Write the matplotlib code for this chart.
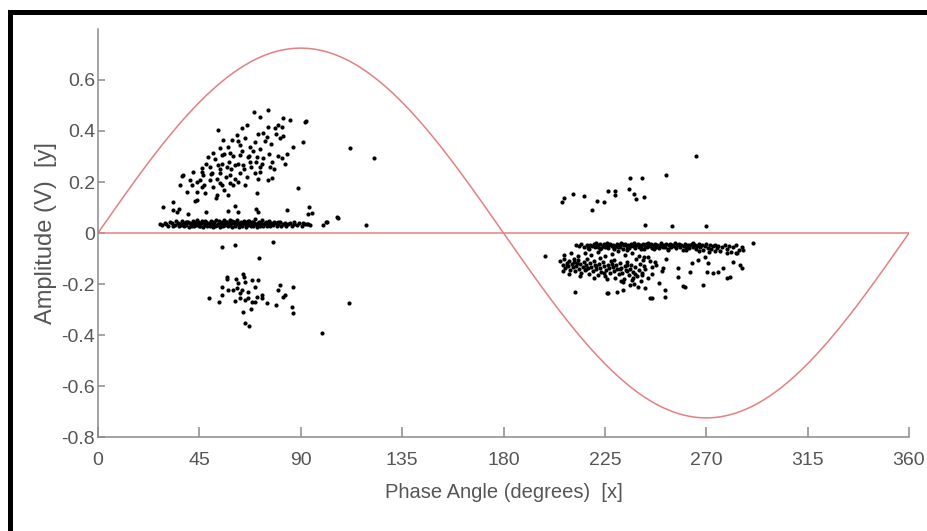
import numpy as np
import matplotlib.pyplot as plt
from matplotlib.patches import Rectangle

plt.rcParams['font.family'] = ['Liberation Sans', 'DejaVu Sans']

# reference sine wave
amplitude = 0.725
phase = np.linspace(0, 360, 721)

# scatter clusters (phase deg, amplitude V)
upper_left = [
    (69.2, .475), (75.5, .482), (71.9, .455), (82.1, .451), (85.2, .443), (92.3, .439), (66.1, .424), (79.9, .424),
    (78.6, .412), (81.7, .416), (75.5, .416), (53.3, .404), (73.2, .392), (75.0, .376), (80.8, .373), (91.0, .357),
    (86.6, .337), (61.7, .384), (59.5, .365), (55.5, .365), (65.3, .373), (63.0, .345), (69.7, .357), (67.5, .337),
    (57.7, .337), (54.2, .333), (51.0, .314), (48.8, .298), (55.0, .306), (58.6, .314), (63.0, .306), (66.6, .298),
    (70.6, .298), (73.2, .294), (81.7, .294), (77.2, .278), (83.0, .271), (46.2, .255), (49.7, .259), (53.3, .267),
    (57.3, .259), (60.8, .267), (64.4, .267), (67.5, .278), (71.9, .259), (76.4, .259), (42.2, .239), (46.6, .227),
    (50.6, .235), (54.2, .235), (58.6, .227), (63.0, .235), (69.7, .235), (71.9, .239), (77.2, .216), (37.7, .227),
    (40.8, .208), (45.3, .208), (49.7, .208), (54.2, .196), (58.6, .196), (62.1, .200), (65.3, .188), (75.5, .208),
    (41.7, .188), (46.2, .180), (55.0, .188), (39.5, .161), (43.9, .161), (47.5, .157), (52.8, .149), (57.7, .149),
    (70.6, .157), (88.8, .176), (33.3, .122), (43.1, .125), (91.9, .435), (111.9, .333), (122.5, .294), (37.3, .224),
    (36.4, .188), (28.9, .102), (35.1, .082), (43.9, .129),
    (48.0, .27), (50.0, .23), (52.0, .29), (53.0, .21), (55.0, .27), (56.0, .31), (57.0, .22), (58.0, .28),
    (59.0, .25), (60.0, .30), (61.0, .21), (62.0, .27), (64.0, .32), (65.0, .25), (66.0, .22), (67.0, .30),
    (68.0, .26), (69.0, .32), (70.0, .28), (71.0, .21), (72.0, .33), (73.0, .27), (74.0, .36), (76.0, .31),
    (77.0, .35), (78.0, .25), (79.0, .39), (80.0, .30), (82.0, .38), (84.0, .31), (44.0, .20), (46.0, .24),
    (47.0, .19), (51.0, .18), (54.0, .25), (56.0, .17), (60.0, .19), (62.0, .36), (64.0, .41), (71.0, .39),
]

left_band = [
    (27.5, .036), (28.3, .030), (29.6, .041), (30.4, .034), (31.2, .028), (32.0, .044), (32.9, .038), (33.5, .027),
    (34.1, .031), (34.8, .046), (35.3, .040), (35.9, .026), (36.4, .037), (36.8, .030), (37.3, .048), (37.9, .041),
    (38.2, .027), (38.7, .038), (39.1, .031), (39.6, .045), (40.0, .043), (40.4, .025), (40.9, .039), (41.3, .035),
    (41.6, .029), (42.1, .047), (42.5, .045), (42.8, .026), (43.3, .039), (43.7, .032), (44.0, .050), (44.4, .042),
    (44.9, .027), (45.2, .029), (45.6, .038), (46.1, .046), (46.4, .024), (46.8, .040), (47.3, .033), (47.6, .049),
    (48.0, .044), (48.5, .026), (48.8, .036), (49.2, .041), (49.7, .029), (50.0, .048), (50.4, .038), (50.9, .024),
    (51.2, .036), (51.6, .043), (52.1, .028), (52.4, .051), (52.8, .030), (53.3, .037), (53.6, .046), (54.0, .025),
    (54.5, .039), (54.8, .033), (55.2, .042), (55.7, .027), (56.0, .050), (56.4, .032), (56.9, .045), (57.2, .044),
    (57.6, .026), (58.1, .040), (58.4, .031), (58.8, .052), (59.3, .047), (59.6, .024), (60.0, .039), (60.5, .043),
    (60.8, .028), (61.2, .036), (61.7, .052), (62.0, .038), (62.4, .025), (62.9, .041), (63.2, .035), (63.6, .045),
    (64.1, .027), (64.4, .038), (64.8, .049), (65.3, .036), (65.6, .024), (66.0, .042), (66.5, .030), (66.8, .048),
    (67.2, .047), (67.7, .026), (68.0, .037), (68.4, .043), (68.9, .029), (69.3, .039), (69.8, .055), (70.2, .036),
    (70.7, .025), (71.1, .040), (71.6, .045), (72.0, .028), (72.5, .038), (73.0, .050), (73.4, .026), (73.9, .037),
    (74.4, .042), (74.9, .029), (75.4, .036), (75.9, .046), (76.5, .027), (77.0, .039), (77.6, .031), (78.2, .044),
    (78.8, .041), (79.4, .027), (80.0, .037), (80.7, .044), (81.4, .028), (82.1, .036), (82.8, .039), (83.6, .027),
    (84.5, .035), (85.4, .040), (86.3, .029), (87.2, .036), (88.3, .033), (89.4, .038), (90.6, .028), (91.8, .035),
    (93.0, .037), (94.3, .031),
    (36.0, .034), (39.0, .042), (42.0, .033), (45.0, .041), (48.2, .034), (50.6, .043), (53.0, .033), (55.5, .041),
    (58.0, .034), (60.2, .044), (62.6, .033), (65.0, .041), (67.4, .034), (69.0, .044), (71.4, .033), (74.0, .041),
    (76.8, .034), (79.8, .042), (83.0, .034), (86.8, .042),
    (33.3, .090), (35.9, .094), (39.9, .075), (47.9, .083), (52.4, .137), (57.7, .087), (60.8, .106), (62.1, .082),
    (70.2, .094), (70.9, .082), (84.0, .090), (93.7, .102), (93.2, .075), (95.0, .078), (91.0, .039), (92.8, .035),
    (99.9, .031), (101.2, .043), (106.1, .063), (119.0, .031), (106.5, .059), (101.7, .043),
    (55.0, -.055), (60.8, -.047), (77.7, -.035), (71.5, -.098),
]

lower_left = [
    (64.4, -.161), (64.8, -.173), (57.3, -.173), (57.3, -.180), (61.3, -.180), (68.4, -.184), (71.0, -.184), (62.1, -.196),
    (65.3, -.192), (55.0, -.212), (57.7, -.224), (59.9, -.224), (61.7, -.216), (63.9, -.224), (66.6, -.231), (69.7, -.212),
    (80.8, -.204), (86.6, -.212), (79.9, -.224), (55.0, -.243), (63.0, -.235), (66.6, -.255), (72.8, -.243), (83.0, -.243),
    (82.1, -.251), (49.3, -.255), (53.7, -.271), (60.8, -.267), (65.3, -.263), (68.4, -.271), (69.7, -.271), (72.8, -.255),
    (75.0, -.275), (79.0, -.282), (86.1, -.290), (86.6, -.314), (64.4, -.310), (67.9, -.298), (65.3, -.353), (67.0, -.365),
    (99.4, -.392), (111.4, -.275), (63.0, -.255), (70.6, -.251),
]

upper_right = [
    (265.5, .302), (236.2, .216), (241.5, .216), (252.1, .227), (226.4, .165), (229.5, .165), (229.5, .149), (235.7, .173),
    (237.9, .153), (238.8, .133), (242.4, .141), (224.6, .122), (242.8, .031), (254.8, .027), (269.9, .027), (206.0, .122),
    (206.9, .137), (210.9, .153), (215.7, .145), (221.5, .125), (219.3, .090),
]

right_band = [
    (212.0, -.047), (213.5, -.052), (214.6, -.044), (215.8, -.055), (216.9, -.049), (217.7, -.058), (218.6, -.046), (219.4, -.051),
    (220.1, -.043), (220.8, -.056), (221.5, -.048), (222.1, -.053), (222.8, -.045), (223.4, -.060), (224.0, -.050), (224.6, -.044),
    (225.2, -.054), (225.8, -.047), (226.3, -.057), (226.9, -.049), (227.4, -.043), (228.0, -.052), (228.5, -.046), (229.1, -.058),
    (229.6, -.050), (230.2, -.044), (230.7, -.055), (231.3, -.048), (231.8, -.053), (232.4, -.045), (232.9, -.061), (233.5, -.049),
    (234.0, -.043), (234.6, -.054), (235.1, -.047), (235.7, -.057), (236.2, -.050), (236.8, -.044), (237.3, -.052), (237.9, -.046),
    (238.4, -.059), (239.0, -.049), (239.5, -.043), (240.1, -.055), (240.6, -.048), (241.2, -.053), (241.7, -.045), (242.3, -.062),
    (242.8, -.050), (243.4, -.044), (243.9, -.056), (244.5, -.047), (245.0, -.052), (245.6, -.045), (246.1, -.058), (246.7, -.049),
    (247.2, -.043), (247.8, -.054), (248.3, -.047), (248.9, -.060), (249.4, -.050), (250.0, -.044), (250.6, -.055), (251.1, -.048),
    (251.7, -.053), (252.2, -.045), (252.8, -.063), (253.3, -.049), (253.9, -.043), (254.4, -.056), (255.0, -.047), (255.6, -.052),
    (256.1, -.045), (256.7, -.059), (257.2, -.049), (257.8, -.044), (258.3, -.055), (258.9, -.048), (259.5, -.066), (260.0, -.050),
    (260.6, -.044), (261.2, -.054), (261.8, -.047), (262.4, -.058), (263.0, -.049), (263.6, -.043), (264.2, -.056), (264.8, -.048),
    (265.4, -.062), (266.0, -.050), (266.7, -.045), (267.3, -.055), (268.0, -.048), (268.7, -.068), (269.4, -.051), (270.1, -.045),
    (270.8, -.057), (271.5, -.049), (272.3, -.063), (273.0, -.052), (273.8, -.046), (274.6, -.058), (275.4, -.050), (276.3, -.070),
    (277.2, -.054), (278.1, -.047), (279.0, -.061), (280.0, -.052), (281.0, -.073), (282.0, -.056), (283.2, -.048), (284.5, -.065),
    (285.9, -.055), (290.8, -.039),
    (218.0, -.062), (221.0, -.040), (223.0, -.064), (226.0, -.041), (229.0, -.063), (232.0, -.040), (235.0, -.065), (238.0, -.041),
    (241.0, -.064), (244.0, -.040), (247.0, -.063), (250.0, -.041), (253.0, -.066), (256.0, -.040), (261.0, -.068), (264.0, -.041),
    (267.0, -.070), (271.0, -.075), (274.0, -.072), (279.0, -.078), (283.0, -.080),
]

lower_right = [
    (205.3, -.110), (206.2, -.125), (206.7, -.102), (207.5, -.138), (208.0, -.118), (208.6, -.131), (209.1, -.108), (209.7, -.145),
    (210.2, -.122), (210.8, -.135), (211.3, -.114), (211.9, -.150), (212.4, -.128), (213.0, -.104), (213.5, -.140), (214.1, -.120),
    (214.6, -.155), (215.2, -.132), (215.7, -.112), (216.3, -.146), (216.8, -.125), (217.4, -.138), (217.9, -.160), (218.5, -.117),
    (219.0, -.133), (219.6, -.148), (220.1, -.108), (220.7, -.127), (221.2, -.142), (221.8, -.165), (222.3, -.120), (222.9, -.136),
    (223.4, -.152), (224.0, -.114), (224.5, -.130), (225.1, -.170), (225.6, -.145), (226.2, -.124), (226.7, -.139), (227.3, -.158),
    (227.8, -.110), (228.4, -.133), (228.9, -.148), (229.5, -.175), (230.0, -.126), (230.6, -.142), (231.1, -.162), (231.7, -.118),
    (232.2, -.137), (232.8, -.155), (233.3, -.180), (233.9, -.130), (234.4, -.147), (235.0, -.112), (235.5, -.166), (236.1, -.140),
    (236.6, -.125), (237.2, -.185), (237.7, -.152), (238.3, -.135), (238.8, -.100), (239.4, -.170), (240.0, -.145), (240.5, -.120),
    (241.1, -.190), (241.6, -.158), (242.2, -.095), (243.0, -.140), (244.0, -.175), (245.0, -.110), (246.0, -.160), (247.5, -.125),
    (249.0, -.195), (250.5, -.150), (252.0, -.100),
    (207.0, -.085), (210.0, -.078), (213.0, -.090), (216.0, -.080), (219.0, -.088), (222.0, -.075), (225.0, -.092), (228.0, -.082),
    (231.0, -.070), (234.0, -.086), (237.0, -.078), (240.0, -.090),
    (206.5, -.150), (209.0, -.160), (211.5, -.100), (214.0, -.168), (217.0, -.102), (220.0, -.175), (223.0, -.098), (226.0, -.182),
    (229.0, -.104), (232.0, -.190), (235.0, -.150), (238.0, -.200), (208.2, -.125), (212.8, -.116), (216.5, -.140), (221.0, -.130),
    (224.8, -.158), (228.0, -.122), (231.5, -.140), (234.7, -.125), (238.5, -.162), (242.5, -.128),
    (241.9, -.106), (244.1, -.094), (247.3, -.114), (245.9, -.133), (250.8, -.137), (257.5, -.137), (257.5, -.173), (262.8, -.153),
    (263.7, -.118), (266.3, -.106), (269.4, -.094), (270.8, -.118), (270.3, -.153), (273.0, -.157), (275.2, -.153), (277.4, -.137),
    (280.5, -.173), (281.9, -.114), (285.0, -.125), (285.9, -.137), (283.6, -.078), (286.3, -.067), (260.6, -.212), (268.6, -.204),
    (251.7, -.224), (245.9, -.255), (251.7, -.251), (239.7, -.212), (242.8, -.216), (236.2, -.204), (233.0, -.192), (230.4, -.231),
    (226.4, -.235), (237.5, -.176), (241.5, -.165), (211.7, -.231), (225.9, -.235), (233.0, -.224), (245.0, -.255), (259.7, -.208),
    (279.2, -.176), (198.4, -.090),
]

clusters = [upper_left, left_band, lower_left, upper_right, right_band, lower_right]
pts = np.array([p for c in clusters for p in c])

fig = plt.figure(figsize=(9.27, 5.31), dpi=100)
ax = fig.add_axes([0.1057, 0.1770, 0.8749, 0.7684])

red = '#e38080'
ax.plot(phase, amplitude * np.sin(np.radians(phase)), color=red, lw=1.1)
ax.plot([0, 360], [0, 0], color=red, lw=1.1)
ax.scatter(pts[:, 0], pts[:, 1], s=9, c='black', linewidths=0, zorder=3)

ax.set_xlim(0, 360)
ax.set_ylim(-0.8, 0.8)
ax.set_xticks(np.arange(0, 361, 45))
ax.set_yticks([-0.8, -0.6, -0.4, -0.2, 0, 0.2, 0.4, 0.6])
ax.set_yticklabels(['-0.8', '-0.6', '-0.4', '-0.2', '0', '0.2', '0.4', '0.6'])

for s in ['top', 'right']:
    ax.spines[s].set_visible(False)
for s in ['left', 'bottom']:
    ax.spines[s].set_color('#8a8a8a')
    ax.spines[s].set_linewidth(1.1)

ax.tick_params(axis='both', direction='in', colors='#8a8a8a', labelcolor='#555555', labelsize=14)
ax.tick_params(axis='x', length=7, width=1.1, pad=11)
ax.tick_params(axis='y', length=5, width=1.1, pad=2)

ax.set_xlabel('Phase Angle (degrees)  [x]', fontsize=14.5, color='#555555', labelpad=10)
ax.set_ylabel('Amplitude (V)  [y]', fontsize=17, color='#555555', labelpad=3)

# black frame around the picture
fig.patches.append(Rectangle((0.0113, -0.05), 1.2, 0.9765 + 0.05, transform=fig.transFigure,
                             fill=False, edgecolor='black', lw=3.6))

fig.savefig('out.png', dpi=100)
